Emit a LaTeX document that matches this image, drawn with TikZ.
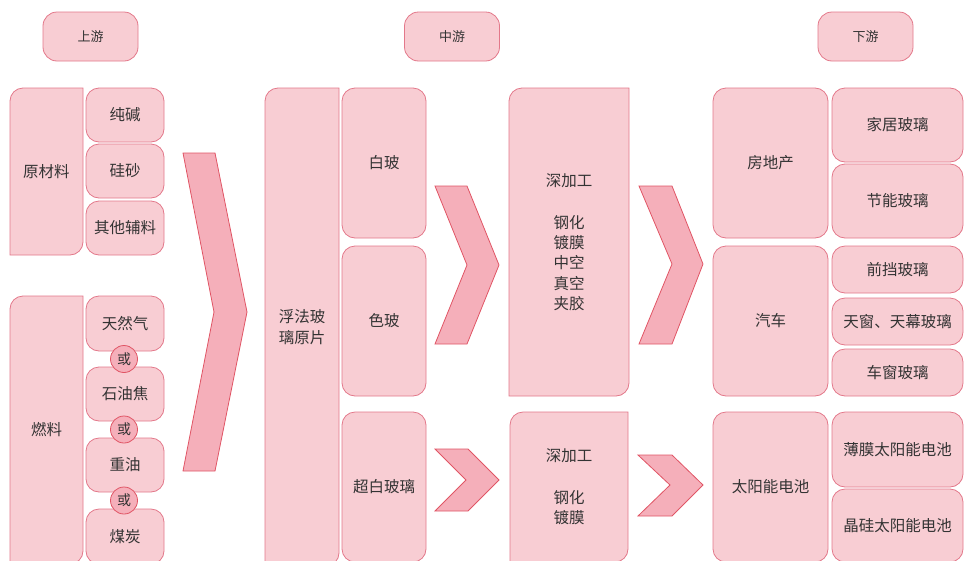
\documentclass[tikz,border=0pt]{standalone}
\usepackage{fontspec}
\setmainfont{Noto Sans CJK SC}
\definecolor{boxfill}{HTML}{F8CDD3}
\definecolor{boxline}{HTML}{E3788A}
\definecolor{chevfill}{HTML}{F5AFBA}
\definecolor{chevline}{HTML}{E05565}
\definecolor{txt}{HTML}{333333}
\tikzset{
  box/.style={draw=boxline, fill=boxfill, line width=0.8pt},
  rbox/.style={box, rounded corners=13pt, inner sep=0pt, text=txt, align=center, font=\fontsize{15.5}{20.3}\selectfont},
  lbl/.style={text=txt, align=center, inner sep=0pt, font=\fontsize{15.5}{20.3}\selectfont},
  hbox/.style={box, rounded corners=14pt, inner sep=0pt, text=txt, minimum width=95pt, minimum height=49pt, font=\fontsize{13}{16}\selectfont},
  chev/.style={draw=chevline, fill=chevfill, line width=0.8pt, line join=miter},
  orc/.style={circle, draw=chevline, fill=chevfill, line width=0.8pt, minimum size=27pt, inner sep=0pt, text=txt, font=\fontsize{14}{16}\selectfont}
}
% all-round box: name, x1, y1, x2, y2, text
\newcommand\rb[6]{\node[rbox, minimum width={#4pt-#2pt}, minimum height={#5pt-#3pt}] (#1) at ({(#2+#4)/2},{(#3+#5)/2}) {#6};}
% diagonal-round box: name, x1, y1, x2, y2, text
\newcommand\db[6]{%
  \draw[box] (#2,#5) -- ({#2},{#3+13}) arc[start angle=180,end angle=270,radius=13] -- (#4,#3) -- ({#4},{#5-13}) arc[start angle=0,end angle=90,radius=13] -- cycle;
  \node[lbl] (#1) at ({(#2+#4)/2},{(#3+#5)/2}) {#6};}
\begin{document}
\begin{tikzpicture}[x=1pt,y=-1pt]
\useasboundingbox (0,0) rectangle (964,560);
\clip (0,0) rectangle (964,560);
% headers
\node[hbox] (up) at (90.5,36.5) {上游};
\node[hbox] (mid) at (452,36.5) {中游};
\node[hbox] (down) at (865.5,36.5) {下游};
% upstream
\db{raw}{10}{88}{83}{255}{原材料}
\rb{soda}{86}{88}{164}{142}{纯碱}
\rb{sand}{86}{144}{164}{198}{硅砂}
\rb{aux}{86}{201}{164}{255}{其他辅料}
\db{fuel}{10}{296}{83}{564}{燃料}
\rb{gas}{86}{296}{164}{351}{天然气}
\rb{coke}{86}{367}{164}{421}{石油焦}
\rb{oil}{86}{438}{164}{492}{重油}
\rb{coal}{86}{509}{164}{564}{煤炭}
\node[orc] (or1) at (124,359) {或};
\node[orc] (or2) at (124,429.5) {或};
\node[orc] (or3) at (124,500.5) {或};
\draw[chev] (183,153) -- (215,153) -- (247,312) -- (215,471) -- (183,471) -- (214,312) -- cycle;
% midstream
\db{float}{265}{88}{339}{566}{浮法玻\\璃原片}
\rb{white}{342}{88}{426}{238}{白玻}
\rb{color}{342}{246}{426}{396}{色玻}
\rb{ultra}{342}{412}{426}{562}{超白玻璃}
\draw[chev] (435,186) -- (467,186) -- (499,265) -- (467,344) -- (435,344) -- (467,265) -- cycle;
\draw[chev] (435,449) -- (468,449) -- (499,480) -- (468,511) -- (435,511) -- (466,480) -- cycle;
\db{deep1}{509}{88}{629}{396}{深加工\\[21.7pt]钢化\\镀膜\\中空\\真空\\夹胶}
\db{deep2}{510}{412}{628}{562}{深加工\\[21.7pt]钢化\\镀膜}
\draw[chev] (639,186) -- (672,186) -- (703,264) -- (672,344) -- (639,344) -- (672,264) -- cycle;
\draw[chev] (638,455) -- (672,455) -- (703,485) -- (672,516) -- (638,516) -- (670,485) -- cycle;
% downstream
\rb{estate}{713}{88}{828}{238}{房地产}
\rb{car}{713}{246}{828}{396}{汽车}
\rb{solar}{713}{412}{828}{562}{太阳能电池}
\rb{home}{832}{88}{963}{162}{家居玻璃}
\rb{energy}{832}{164}{963}{238}{节能玻璃}
\rb{front}{832}{246}{963}{293}{前挡玻璃}
\rb{roof}{832}{298}{963}{345}{天窗、天幕玻璃}
\rb{window}{832}{349}{963}{396}{车窗玻璃}
\rb{thin}{832}{412}{963}{487}{薄膜太阳能电池}
\rb{crys}{832}{489}{963}{562}{晶硅太阳能电池}
\end{tikzpicture}
\end{document}
